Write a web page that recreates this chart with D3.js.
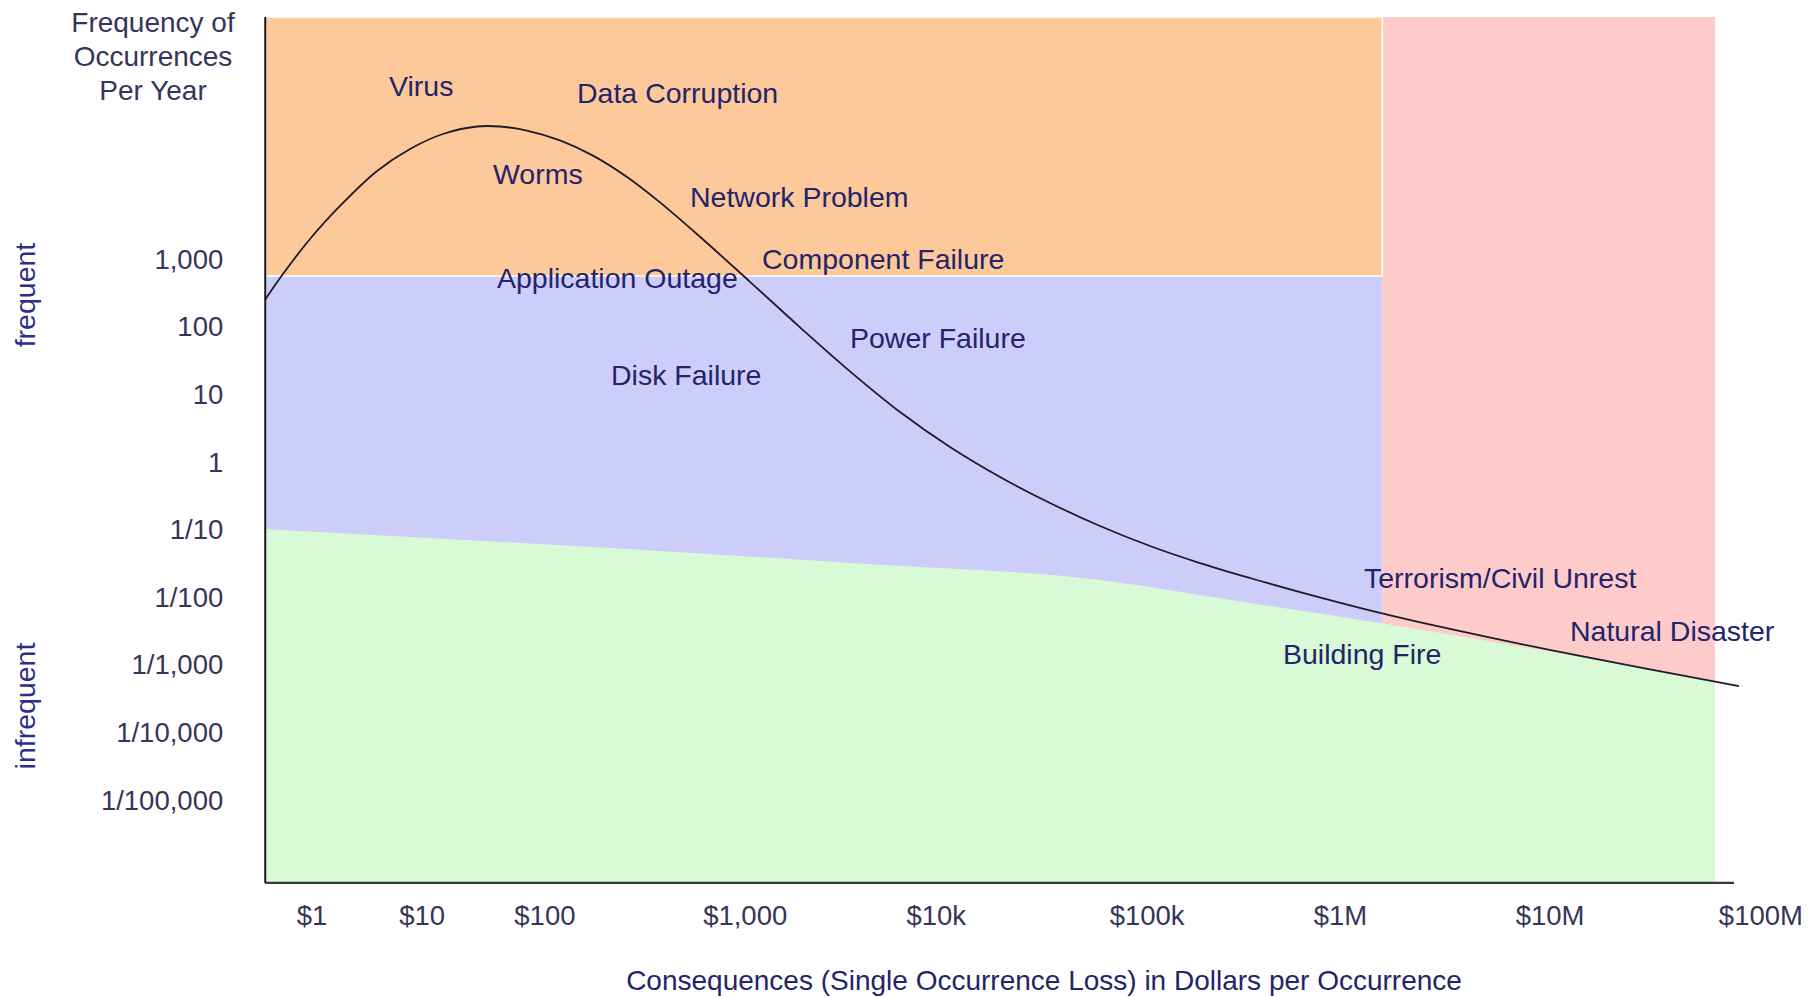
<!DOCTYPE html>
<html>
<head>
<meta charset="utf-8">
<script src="https://cdn.jsdelivr.net/npm/d3@7"></script>
<style>
  html, body { margin: 0; padding: 0; background: #fff; }
  svg text { font-family: "Liberation Sans", Arial, sans-serif; }
</style>
</head>
<body>
<svg id="chart" width="1816" height="997"></svg>
<script>
// --- data ---
const lossTicks = [1, 10, 100, 1e3, 1e4, 1e5, 1e6, 1e7, 1e8];
const lossTickLabels = ['$1', '$10', '$100', '$1,000', '$10k', '$100k', '$1M', '$10M', '$100M'];
const freqTicks = [1e3, 1e2, 10, 1, 0.1, 0.01, 1e-3, 1e-4, 1e-5];
const freqTickLabels = ['1,000', '100', '10', '1', '1/10', '1/100', '1/1,000', '1/10,000', '1/100,000'];

// risk curve
const curveLoss = [0.378, 0.518, 0.969, 1.93, 3.94, 7.85, 14.9, 28.3, 43.4, 72.1, 119.6, 174.8, 258.5, 377.7,
  598, 1066, 1947, 3556, 6497, 11680, 20170, 34810, 60100, 104100, 188800, 342300, 621300,
  1.552e6, 3.347e6, 1.32e7, 7.91e7];
const curveFreq = [251, 530.8, 2003, 6828, 20300, 42930, 71560, 92390, 92390, 80610, 57540, 34290, 16550, 6966,
  2160, 466.4, 99, 22.1, 5.53, 1.68, 0.605, 0.2495, 0.114, 0.0577, 0.0323, 0.0194, 0.01204,
  0.00593, 0.00343, 0.00141, 0.00049];

// top edge of the green (infrequent) zone
const boundaryLoss = [0.378, 3560, 60100, 342300, 1.552e6, 6.09e7];
const boundaryFreq = [0.103, 0.0324, 0.0181, 0.00828, 0.00419, 0.00058];

// zone extents
const lossMin = 0.38, lossSplit = 1.59e6, lossMax = 6.09e7, lossAxisEnd = 7.5e7;
const freqTop = 3.85e6, freqSplit = 568, freqBottom = 6e-7;

// event labels
const eventNames = ['Virus', 'Data Corruption', 'Worms', 'Network Problem', 'Component Failure',
  'Application Outage', 'Power Failure', 'Disk Failure', 'Terrorism/Civil Unrest', 'Building Fire', 'Natural Disaster'];
const eventLoss = [5.06, 145.5, 38.1, 533, 1232, 41.1, 3556, 215, 1.302e6, 507400, 1.25e7];
const eventFreq = [3.67e5, 2.89e5, 1.83e4, 8370, 1010, 531, 68.7, 19.5, 0.0194, 0.00146, 0.00319];

// --- scales (the dollar axis is hand spaced, so one segment per decade) ---
const x = d3.scaleLog()
  .domain(lossTicks)
  .range([311.5, 421.6, 544.4, 744.7, 935.8, 1146.6, 1340, 1549.6, 1760.4]);
const y = d3.scaleLog().domain([1e-5, 1e3]).range([800.3, 259.4]);

const svg = d3.select('#chart');
const textCol = '#24246a';
const tickCol = '#35355a';
const font = '"Liberation Sans", Arial, sans-serif';

// zones
const zones = svg.append('g');
zones.append('rect')
  .attr('x', x(lossSplit)).attr('y', y(freqTop))
  .attr('width', x(lossMax) - x(lossSplit)).attr('height', y(freqBottom) - y(freqTop))
  .attr('fill', '#fecbcb');
zones.append('rect')
  .attr('x', x(lossMin)).attr('y', y(freqSplit))
  .attr('width', x(lossSplit) - x(lossMin)).attr('height', y(freqBottom) - y(freqSplit))
  .attr('fill', '#cdcdfa');
zones.append('rect')
  .attr('x', x(lossMin)).attr('y', y(freqTop))
  .attr('width', x(lossSplit) - x(lossMin)).attr('height', y(freqSplit) - y(freqTop))
  .attr('fill', '#fdc99b')
  .attr('stroke', 'rgba(255,255,255,0.75)').attr('stroke-width', 2);

const green = d3.area()
  .x((d, i) => x(boundaryLoss[i]))
  .y0(y(freqBottom))
  .y1((d, i) => y(boundaryFreq[i]))
  .curve(d3.curveMonotoneX);
zones.append('path')
  .datum(boundaryLoss)
  .attr('d', green)
  .attr('fill', '#d8fad6');

// axis lines
svg.append('line')
  .attr('x1', x(lossMin)).attr('x2', x(lossMin))
  .attr('y1', y(freqTop)).attr('y2', y(freqBottom))
  .attr('stroke', '#1a1a1a').attr('stroke-width', 2);
svg.append('line')
  .attr('x1', x(lossMin)).attr('x2', x(lossAxisEnd))
  .attr('y1', y(freqBottom)).attr('y2', y(freqBottom))
  .attr('stroke', '#3a3a3a').attr('stroke-width', 2.2);

// risk curve
const line = d3.line()
  .x((d, i) => x(curveLoss[i]))
  .y((d, i) => y(curveFreq[i]))
  .curve(d3.curveCatmullRom.alpha(0.5));
svg.append('path')
  .datum(curveLoss)
  .attr('d', line)
  .attr('fill', 'none')
  .attr('stroke', '#1c1c28')
  .attr('stroke-width', 1.8);

// event labels
svg.append('g').selectAll('text')
  .data(eventNames)
  .join('text')
  .attr('x', (d, i) => x(eventLoss[i]))
  .attr('y', (d, i) => y(eventFreq[i]))
  .attr('dy', '0.35em')
  .attr('fill', textCol)
  .style('font-size', '28.5px')
  .text(d => d);

// y axis ticks
const yAxis = svg.append('g')
  .attr('transform', `translate(${x(lossMin)},0)`)
  .call(d3.axisLeft(y).tickValues(freqTicks).tickSize(0).tickPadding(42)
    .tickFormat((d, i) => freqTickLabels[i]));
yAxis.select('.domain').remove();
yAxis.selectAll('text').attr('fill', tickCol).style('font-size', '27.5px').style('font-family', font);

// x axis ticks
const xAxis = svg.append('g')
  .attr('transform', `translate(0,${y(freqBottom)})`)
  .call(d3.axisBottom(x).tickValues(lossTicks).tickSize(0).tickPadding(23)
    .tickFormat((d, i) => lossTickLabels[i]));
xAxis.select('.domain').remove();
xAxis.selectAll('text').attr('fill', tickCol).style('font-size', '27.5px').style('font-family', font);

// titles
const yTitle = ['Frequency of', 'Occurrences', 'Per Year'];
svg.append('g').selectAll('text')
  .data(yTitle)
  .join('text')
  .attr('x', 153)
  .attr('y', (d, i) => 22 + i * 34)
  .attr('dy', '0.35em')
  .attr('text-anchor', 'middle')
  .attr('fill', tickCol)
  .style('font-size', '28px')
  .text(d => d);

svg.append('text')
  .attr('transform', 'translate(25,295) rotate(-90)')
  .attr('dy', '0.35em')
  .attr('text-anchor', 'middle')
  .attr('fill', '#2e2e8a')
  .style('font-size', '28.5px')
  .text('frequent');
svg.append('text')
  .attr('transform', 'translate(25,706) rotate(-90)')
  .attr('dy', '0.35em')
  .attr('text-anchor', 'middle')
  .attr('fill', '#2e2e8a')
  .style('font-size', '28.5px')
  .text('infrequent');

svg.append('text')
  .attr('x', 1044).attr('y', 980)
  .attr('dy', '0.35em')
  .attr('text-anchor', 'middle')
  .attr('fill', textCol)
  .style('font-size', '28px')
  .text('Consequences (Single Occurrence Loss) in Dollars per Occurrence');
</script>
</body>
</html>
